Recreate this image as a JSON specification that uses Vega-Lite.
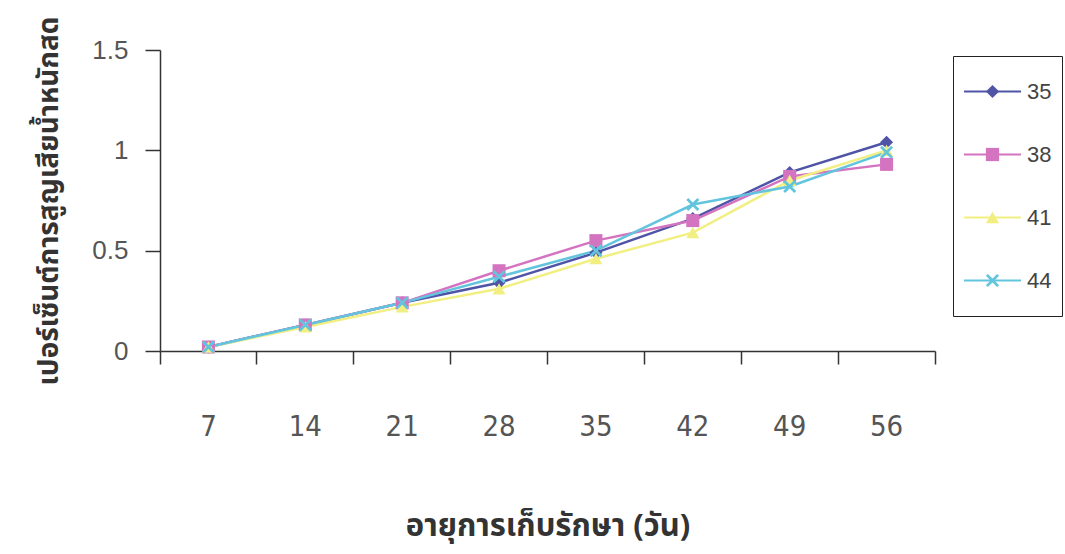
{
  "$schema": "https://vega.github.io/schema/vega-lite/v6.json",
  "width": 775,
  "height": 301,
  "autosize": "none",
  "padding": {"left": 160, "top": 50, "right": 130, "bottom": 203},
  "background": "#ffffff",
  "config": {
    "view": {"stroke": null},
    "axis": {"grid": false, "domainColor": "#333333", "tickColor": "#333333", "domainWidth": 1.5, "tickWidth": 1.5}
  },
  "data": {
    "values": [
      {"day": 7, "temp": "35", "loss": 0.02},
      {"day": 14, "temp": "35", "loss": 0.13},
      {"day": 21, "temp": "35", "loss": 0.24},
      {"day": 28, "temp": "35", "loss": 0.34},
      {"day": 35, "temp": "35", "loss": 0.49},
      {"day": 42, "temp": "35", "loss": 0.66},
      {"day": 49, "temp": "35", "loss": 0.89},
      {"day": 56, "temp": "35", "loss": 1.04},
      {"day": 7, "temp": "38", "loss": 0.02},
      {"day": 14, "temp": "38", "loss": 0.13},
      {"day": 21, "temp": "38", "loss": 0.24},
      {"day": 28, "temp": "38", "loss": 0.40},
      {"day": 35, "temp": "38", "loss": 0.55},
      {"day": 42, "temp": "38", "loss": 0.65},
      {"day": 49, "temp": "38", "loss": 0.87},
      {"day": 56, "temp": "38", "loss": 0.93},
      {"day": 7, "temp": "41", "loss": 0.02},
      {"day": 14, "temp": "41", "loss": 0.12},
      {"day": 21, "temp": "41", "loss": 0.22},
      {"day": 28, "temp": "41", "loss": 0.31},
      {"day": 35, "temp": "41", "loss": 0.46},
      {"day": 42, "temp": "41", "loss": 0.59},
      {"day": 49, "temp": "41", "loss": 0.85},
      {"day": 56, "temp": "41", "loss": 1.00},
      {"day": 7, "temp": "44", "loss": 0.02},
      {"day": 14, "temp": "44", "loss": 0.13},
      {"day": 21, "temp": "44", "loss": 0.24},
      {"day": 28, "temp": "44", "loss": 0.37},
      {"day": 35, "temp": "44", "loss": 0.50},
      {"day": 42, "temp": "44", "loss": 0.73},
      {"day": 49, "temp": "44", "loss": 0.82},
      {"day": 56, "temp": "44", "loss": 0.99}
    ]
  },
  "encoding": {
    "x": {
      "field": "day",
      "type": "ordinal",
      "scale": {"type": "band", "paddingInner": 0, "paddingOuter": 0},
      "axis": {
        "title": "อายุการเก็บรักษา (วัน)",
        "labelAngle": 0,
        "bandPosition": 1,
        "tickExtra": true,
        "tickSize": 13,
        "labelPadding": 48,
        "labelFont": "Liberation Sans Narrow, DejaVu Sans Condensed, Liberation Sans, sans-serif",
        "labelFontSize": 29,
        "labelColor": "#555555",
        "titleFont": "Noto Sans Thai, Loma, Garuda, Norasi, Liberation Serif, serif",
        "titleFontSize": 31,
        "titleFontWeight": "bold",
        "titleColor": "#333333",
        "titlePadding": 70
      }
    },
    "y": {
      "field": "loss",
      "type": "quantitative",
      "scale": {"domain": [0, 1.5], "nice": false},
      "axis": {
        "title": "เปอร์เซ็นต์การสูญเสียน้ำหนักสด",
        "values": [0, 0.5, 1, 1.5],
        "format": "~g",
        "tickSize": 15,
        "labelPadding": 17,
        "labelFont": "Liberation Sans",
        "labelFontSize": 26,
        "labelColor": "#555555",
        "titleFont": "Noto Sans Thai, Loma, Garuda, Norasi, Liberation Serif, serif",
        "titleFontSize": 28,
        "titleFontWeight": "bold",
        "titleColor": "#333333",
        "titlePadding": 28
      }
    }
  },
  "layer": [
    {
      "mark": {"type": "line", "strokeWidth": 2.5},
      "encoding": {
        "stroke": {
          "field": "temp",
          "type": "nominal",
          "scale": {"domain": ["35", "38", "41", "44"], "range": ["#4f54a6", "#d474c0", "#f2ef82", "#62c4dd"]},
          "legend": {
            "orient": "none",
            "legendX": 793,
            "legendY": 6,
            "title": null,
            "symbolType": "stroke",
            "symbolSize": 3249,
            "symbolStrokeWidth": 2,
            "strokeColor": "#222222",
            "padding": 10,
            "clipHeight": 51,
            "rowPadding": 12,
            "labelFont": "Liberation Sans",
            "labelFontSize": 22,
            "labelColor": "#444444",
            "labelOffset": 5
          }
        }
      }
    },
    {
      "mark": {"type": "point", "filled": true, "size": 170, "opacity": 1},
      "encoding": {
        "fill": {
          "field": "temp",
          "type": "nominal",
          "scale": {"domain": ["35", "38", "41", "44"], "range": ["#4f54a6", "#d474c0", "#f2ef82", "#62c4dd"]},
          "legend": {
            "orient": "none",
            "legendX": 793,
            "legendY": 6,
            "title": null,
            "symbolSize": 175,
            "symbolOffset": 22,
            "padding": 10,
            "clipHeight": 51,
            "rowPadding": 12,
            "labelExpr": "''"
          }
        },
        "shape": {
          "field": "temp",
          "type": "nominal",
          "scale": {"domain": ["35", "38", "41", "44"], "range": ["diamond", "square", "triangle-up", "M-1,-0.7L-0.7,-1L0,-0.3L0.7,-1L1,-0.7L0.3,0L1,0.7L0.7,1L0,0.3L-0.7,1L-1,0.7L-0.3,0Z"]},
          "legend": {
            "orient": "none",
            "legendX": 793,
            "legendY": 6,
            "title": null,
            "symbolSize": 175,
            "symbolOffset": 22,
            "padding": 10,
            "clipHeight": 51,
            "rowPadding": 12,
            "labelExpr": "''"
          }
        }
      }
    }
  ],
  "resolve": {"legend": {"stroke": "independent", "fill": "independent", "shape": "independent"}}
}
